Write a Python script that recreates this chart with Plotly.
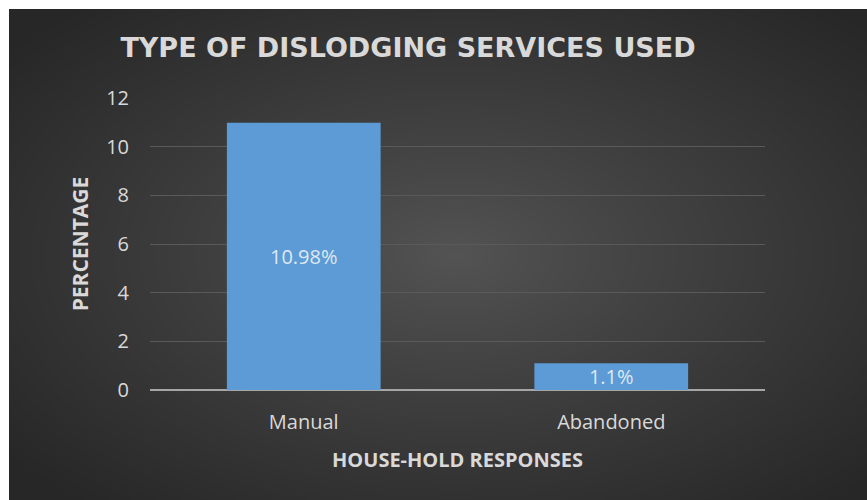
import base64, struct, zlib
import numpy as np
import plotly.graph_objects as go

categories = ["Manual", "Abandoned"]
values = [10.98, 1.1]
labels = ["10.98%", "1.1%"]
y_ticks = [0, 2, 4, 6, 8, 10, 12]

W, H = 867, 500
L, R, T, B = 150, 102, 98, 110
PW, PH = W - L - R, H - T - B


def png_data_uri(arr):
    h, w, _ = arr.shape
    raw = b"".join(b"\x00" + arr[i].tobytes() for i in range(h))
    def chunk(tag, data):
        c = struct.pack(">I", len(data)) + tag + data
        return c + struct.pack(">I", zlib.crc32(tag + data) & 0xffffffff)
    png = b"\x89PNG\r\n\x1a\n" + chunk(b"IHDR", struct.pack(">IIBBBBB", w, h, 8, 2, 0, 0, 0))
    png += chunk(b"IDAT", zlib.compress(raw, 9)) + chunk(b"IEND", b"")
    return "data:image/png;base64," + base64.b64encode(png).decode()


bw, bh = W - 9, H - 9
yy, xx = np.mgrid[0:bh, 0:bw].astype(float)
cx, cy = bw * 0.52, bh * 0.5
r = np.sqrt(((xx - cx) / (bw / 2)) ** 2 + ((yy - cy) / (bh / 2)) ** 2)
t = np.clip(r / 1.35, 0, 1) ** 0.9
v = (0x54 + (0x27 - 0x54) * t).astype(np.uint8)
img = np.stack([v, v, v], axis=-1)
bg_uri = png_data_uri(img)

fig = go.Figure()
fig.add_trace(go.Bar(
    x=categories, y=values, text=labels,
    textposition="inside", insidetextanchor="middle", constraintext="none",
    textfont=dict(family="Open Sans", size=20, color="#dfe8f2"),
    marker=dict(color="#5d9bd6", line=dict(width=0)),
    hoverinfo="skip",
))

fig.add_layout_image(dict(
    source=bg_uri, xref="paper", yref="paper",
    x=(9 - L) / PW, y=(H - B - 9) / PH,
    sizex=bw / PW, sizey=bh / PH,
    xanchor="left", yanchor="top", sizing="stretch", layer="below",
))

fig.update_layout(
    width=W, height=H,
    margin=dict(l=L, r=R, t=T, b=B, pad=0),
    paper_bgcolor="white", plot_bgcolor="rgba(0,0,0,0)",
    bargap=0.5, showlegend=False,
    title=dict(text="<b>TYPE OF DISLODGING SERVICES USED</b>",
               font=dict(family="DejaVu Sans", size=27, color="#d9d9d9"),
               x=408 / W, xref="container", xanchor="center",
               y=1 - 48 / H, yref="container", yanchor="middle"),
    xaxis=dict(
        showgrid=False, zeroline=False, showline=False,
        tickfont=dict(family="Open Sans", size=20, color="#d9d9d9"),
        ticks="", ticklabelstandoff=18,
        title=dict(text="<b>HOUSE-HOLD RESPONSES</b>", standoff=18,
                   font=dict(family="Open Sans", size=20, color="#d9d9d9")),
    ),
    yaxis=dict(
        range=[0, 12], tickvals=y_ticks,
        showgrid=True, gridcolor="#5a5a5a", gridwidth=1,
        zeroline=True, zerolinecolor="#a6a6a6", zerolinewidth=2,
        tickfont=dict(family="Open Sans", size=20, color="#d9d9d9"),
        ticks="", ticklabelstandoff=20,
        title=dict(text="<b>PERCENTAGE</b>", standoff=11,
                   font=dict(family="Open Sans", size=21, color="#d9d9d9")),
    ),
)

fig.write_html("out.html")
